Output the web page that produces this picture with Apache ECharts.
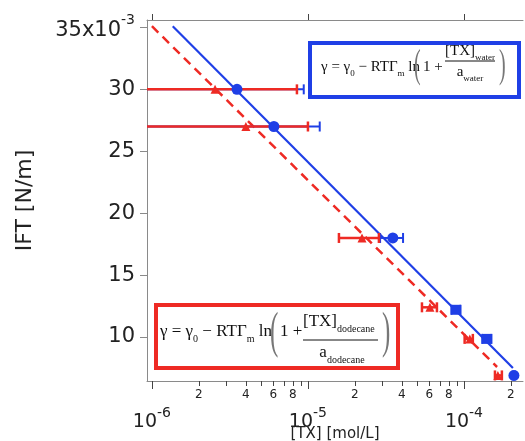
<!DOCTYPE html>
<html><head><meta charset="utf-8">
<script src="https://cdn.jsdelivr.net/npm/echarts@6/dist/echarts.min.js"></script>
<style>html,body{margin:0;padding:0;background:#fff}#c{width:525px;height:441px}</style>
</head><body><div id="c"></div>
<script>
// ---- data (concentrations in mol/L, IFT in units of 1e-3 N/m) ----
const waterConc    = [3.51e-6, 6.05e-6, 3.50e-5, 8.9e-5, 1.40e-4, 2.09e-4];
const waterIFT     = [30.0, 27.0, 18.0, 12.2, 9.85, 6.9];
const waterErrLow  = [5e-7, 5e-7, 2.9e-5, 8.3e-5, 1.31e-4, 2.05e-4];
const waterErrHigh = [9.4e-6, 1.19e-5, 4.07e-5, 9.5e-5, 1.50e-4, 2.13e-4];
const waterMarker  = ['circle', 'circle', 'circle', 'rect', 'rect', 'circle'];

const dodecConc    = [2.54e-6, 4.0e-6, 2.22e-5, 6.05e-5, 1.09e-4, 1.65e-4];
const dodecIFT     = [30.0, 27.0, 18.0, 12.4, 9.85, 6.9];
const dodecErrLow  = [5e-7, 5e-7, 1.58e-5, 5.38e-5, 1.01e-4, 1.58e-4];
const dodecErrHigh = [8.5e-6, 1.0e-5, 2.85e-5, 6.71e-5, 1.14e-4, 1.75e-4];

const waterFitConc = [1.36e-6, 2.06e-4];
const waterFitIFT  = [35.1, 7.5];
const dodecFitConc = [1.0e-6, 1.63e-4];
const dodecFitIFT  = [35.1, 7.58];

const yTickValues   = [10, 15, 20, 25, 30, 35];
const xMajorTicks   = [1e-6, 1e-5, 1e-4];
const xMinorLabels  = [2e-6, 4e-6, 6e-6, 8e-6, 2e-5, 4e-5, 6e-5, 8e-5, 2e-4];
const xAllTicks     = [1e-6, 2e-6, 3e-6, 4e-6, 5e-6, 6e-6, 7e-6, 8e-6, 9e-6,
                       1e-5, 2e-5, 3e-5, 4e-5, 5e-5, 6e-5, 7e-5, 8e-5, 9e-5,
                       1e-4, 2e-4];
const xRange = [9.3e-7, 2.39e-4];
const yRange = [6.45, 35.6];

// ---- build ----
const L = Math.log10;
const BLUE = '#1f3fe6', RED = '#ee2a24', AX = '#8a8a8a', TXT = '#222';
const FONT = 'DejaVu Sans';

function errSeries(name, conc, ift, lo, hi, color, lw) {
  return {
    type: 'custom', name, clip: true, z: 3,
    data: conc.map((c, i) => [L(c), ift[i], L(lo[i]), L(hi[i])]),
    renderItem(params, api) {
      const y = api.value(1);
      const a = api.coord([api.value(2), y]);
      const b = api.coord([api.value(3), y]);
      const h = 5;
      const st = { stroke: color, lineWidth: lw };
      return { type: 'group', children: [
        { type: 'line', shape: { x1: a[0], y1: a[1], x2: b[0], y2: b[1] }, style: st },
        { type: 'line', shape: { x1: a[0], y1: a[1] - h, x2: a[0], y2: a[1] + h }, style: st },
        { type: 'line', shape: { x1: b[0], y1: b[1] - h, x2: b[0], y2: b[1] + h }, style: st }
      ]};
    }
  };
}

const supRich = {
  b: { fontSize: 19, fontFamily: FONT, color: TXT, padding: [7, 0, 0, 0], verticalAlign: 'bottom' },
  sup: { fontSize: 14, fontFamily: FONT, color: TXT, verticalAlign: 'top' }
};
const supRichY = {
  b: { fontSize: 21, fontFamily: FONT, color: TXT, padding: [7, 0, 0, 0], verticalAlign: 'bottom' },
  sup: { fontSize: 14, fontFamily: FONT, color: TXT, verticalAlign: 'top' }
};

const baseX = {
  type: 'value', min: L(xRange[0]), max: L(xRange[1]), splitLine: { show: false }
};

const option = {
  animation: false,
  grid: { left: 147, right: 2, top: 20, bottom: 60, containLabel: false, outerBoundsMode: 'none' },
  xAxis: [
    Object.assign({}, baseX, {
      position: 'bottom',
      name: '[TX] [mol/L]', nameLocation: 'middle', nameGap: 46,
      nameTextStyle: { fontSize: 15, fontFamily: FONT, color: TXT },
      axisLine: { show: true, lineStyle: { color: AX, width: 1 } },
      axisTick: { show: true, length: 5, customValues: xAllTicks.map(L), lineStyle: { color: '#444' } },
      axisLabel: {
        show: true, margin: 8, customValues: xMinorLabels.map(L),
        fontSize: 12, fontFamily: FONT, color: TXT,
        formatter: v => String(Math.round(Math.pow(10, v - Math.floor(v + 1e-9))))
      }
    }),
    Object.assign({}, baseX, {
      position: 'bottom',
      axisLine: { show: false },
      axisTick: { show: true, length: 8, customValues: xMajorTicks.map(L), lineStyle: { color: '#444' } },
      axisLabel: {
        show: true, margin: 25, customValues: xMajorTicks.map(L),
        formatter: v => '{b|10}{sup|' + Math.round(v) + '}', rich: supRich
      }
    }),
    Object.assign({}, baseX, {
      position: 'top',
      axisLine: { show: true, lineStyle: { color: AX, width: 1 } },
      axisTick: { show: true, length: 6, customValues: xMajorTicks.map(L), lineStyle: { color: '#444' } },
      axisLabel: { show: false }
    })
  ],
  yAxis: [{
    type: 'value', min: yRange[0], max: yRange[1], position: 'left',
    splitLine: { show: false },
    name: 'IFT [N/m]', nameLocation: 'middle', nameGap: 111, nameRotate: 90,
    nameTextStyle: { fontSize: 22, fontFamily: FONT, color: TXT },
    axisLine: { show: true, lineStyle: { color: AX, width: 1 } },
    axisTick: { show: true, length: 7, customValues: yTickValues, lineStyle: { color: AX } },
    axisLabel: {
      show: true, margin: 12, customValues: yTickValues,
      fontSize: 21, fontFamily: FONT, color: TXT,
      formatter: v => v === 35 ? '{b|35x10}{sup|-3}' : String(v),
      rich: supRichY
    }
  }],
  series: [
    { type: 'line', name: 'water fit', xAxisIndex: 0, symbol: 'none', z: 2,
      data: waterFitConc.map((c, i) => [L(c), waterFitIFT[i]]),
      lineStyle: { color: BLUE, width: 2.2 } },
    { type: 'line', name: 'dodecane fit', xAxisIndex: 0, symbol: 'none', z: 2,
      data: dodecFitConc.map((c, i) => [L(c), dodecFitIFT[i]]),
      lineStyle: { color: RED, width: 2.5, type: [9, 6] } },
    errSeries('water err', waterConc, waterIFT, waterErrLow, waterErrHigh, BLUE, 2),
    errSeries('dodecane err', dodecConc, dodecIFT, dodecErrLow, dodecErrHigh, RED, 2.5),
    { type: 'scatter', name: 'water', xAxisIndex: 0, z: 4,
      data: waterConc.map((c, i) => ({ value: [L(c), waterIFT[i]], symbol: waterMarker[i],
        symbolSize: waterMarker[i] === 'rect' ? 10 : 11 })),
      itemStyle: { color: BLUE, opacity: 1 } },
    { type: 'scatter', name: 'dodecane', xAxisIndex: 0, z: 4, symbol: 'triangle', symbolSize: 9,
      data: dodecConc.map((c, i) => [L(c), dodecIFT[i]]),
      itemStyle: { color: RED, opacity: 1 } }
  ],
  graphic: []
};

// ---- equation boxes ----
const SERIF = 'Liberation Serif';
function eqRich(fs) {
  return {
    t: { fontSize: fs, fontFamily: SERIF, fill: '#111', verticalAlign: 'bottom', padding: [0, 0, Math.round(fs * 0.25), 0] },
    s: { fontSize: Math.round(fs * 0.6), fontFamily: SERIF, fill: '#111', verticalAlign: 'bottom' }
  };
}
function equation(box, color, fs, sub, pos) {
  const els = [];
  els.push({ type: 'rect', shape: box, style: { fill: '#fff', stroke: color, lineWidth: 4 }, z: 10 });
  const txt = (x, y, text, align) => els.push({
    type: 'text', x, y, z: 11,
    style: { text, fontSize: fs, fontFamily: SERIF, fill: '#111', align: align || 'left', verticalAlign: 'middle', rich: eqRich(fs) }
  });
  txt(pos.mainX, pos.mainY, '{t|γ = γ}{s|0}{t| − RTΓ}{s|m}{t| ln}');
  els.push({ type: 'text', x: pos.lpX, y: pos.parY, z: 11, scaleX: 0.5,
    style: { text: '(', fontSize: pos.parFs, fontFamily: SERIF, fill: '#777', verticalAlign: 'middle' } });
  txt(pos.oneX, pos.mainY, '{t|1 +}');
  txt(pos.numX, pos.numY, '{t|[TX]}{s|' + sub + '}');
  els.push({ type: 'line', z: 11, shape: { x1: pos.numX, y1: pos.lineY, x2: pos.lineX2, y2: pos.lineY }, style: { stroke: '#111', lineWidth: 1 } });
  txt(pos.denX, pos.denY, '{t|a}{s|' + sub + '}', 'center');
  els.push({ type: 'text', x: pos.rpX, y: pos.parY, z: 11, scaleX: 0.5,
    style: { text: ')', fontSize: pos.parFs, fontFamily: SERIF, fill: '#777', verticalAlign: 'middle' } });
  return els;
}
option.graphic = [].concat(
  equation({ x: 310, y: 43, width: 209, height: 54 }, BLUE, 15, 'water',
    { mainX: 321, mainY: 69, lpX: 414, parY: 66, parFs: 40, oneX: 423, numX: 445, numY: 53, lineY: 61, lineX2: 495,
      denX: 470, denY: 74, rpX: 499 }),
  equation({ x: 156, y: 305, width: 242, height: 63 }, RED, 17, 'dodecane',
    { mainX: 160, mainY: 334, lpX: 270, parY: 334, parFs: 50, oneX: 280, numX: 303, numY: 324, lineY: 340, lineX2: 378,
      denX: 342, denY: 355, rpX: 382 })
);

const chart = echarts.init(document.getElementById('c'), null, { renderer: 'canvas' });
chart.setOption(option);
</script>
</body></html>
